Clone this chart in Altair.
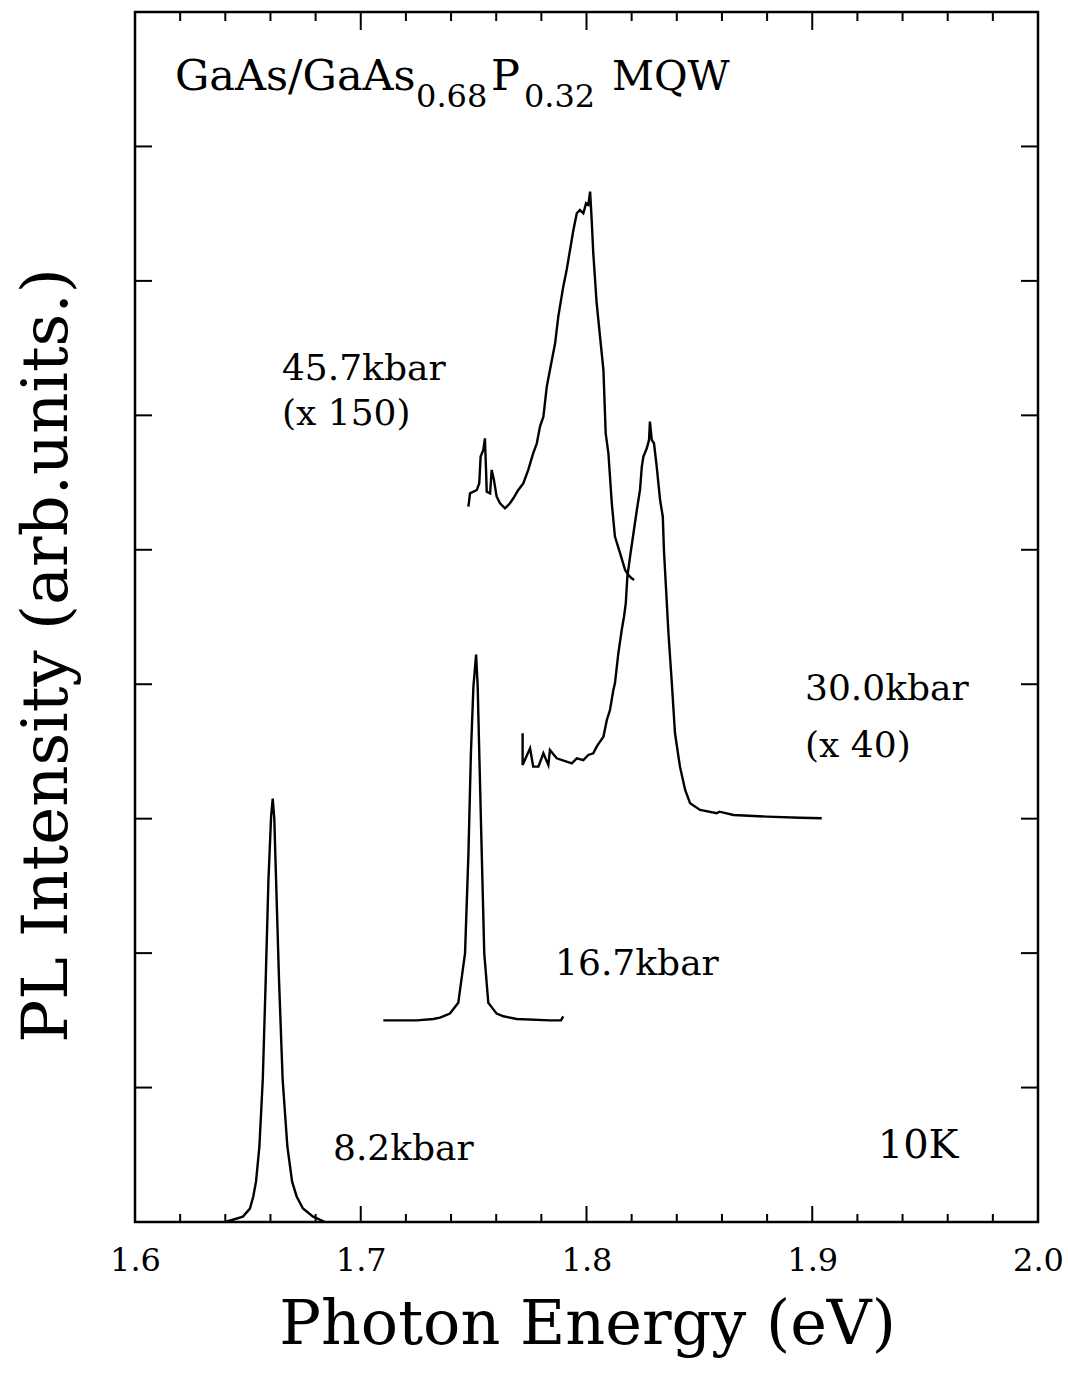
import altair as alt
import pandas as pd

# ---- data ----
e82_x = [1.6400, 1.6478, 1.6509, 1.6524, 1.6536, 1.6551, 1.6566, 1.6579, 1.6591, 1.6603,
         1.6610, 1.6617, 1.6625, 1.6638, 1.6654, 1.6675, 1.6696, 1.6716, 1.6744, 1.6789, 1.6842]
e82_y = [0.00, 0.04, 0.10, 0.19, 0.30, 0.56, 1.06, 1.80, 2.54, 3.02,
         3.15, 3.00, 2.54, 1.80, 1.06, 0.56, 0.30, 0.19, 0.10, 0.04, 0.00]

e167_x = [1.7100, 1.7250, 1.7321, 1.7351, 1.7395, 1.7432, 1.7462, 1.7477, 1.7488, 1.7499,
          1.7511, 1.7518, 1.7525, 1.7536, 1.7547, 1.7565, 1.7602, 1.7632, 1.7691, 1.7838,
          1.7887, 1.7897]
e167_y = [1.50, 1.50, 1.51, 1.52, 1.55, 1.63, 2.00, 2.74, 3.49, 3.98,
          4.22, 3.98, 3.49, 2.74, 2.00, 1.63, 1.55, 1.53, 1.51, 1.50,
          1.50, 1.53]

e300_x = [1.7717, 1.7717, 1.7750, 1.7764, 1.7787, 1.7809, 1.7831, 1.7838, 1.7868, 1.7912,
          1.7935, 1.7957, 1.7986, 1.8008, 1.8030, 1.8045, 1.8060, 1.8075, 1.8090, 1.8104,
          1.8119, 1.8126, 1.8141, 1.8156, 1.8166, 1.8174, 1.8181, 1.8193, 1.8208, 1.8223,
          1.8237, 1.8245, 1.8252, 1.8267, 1.8277, 1.8281, 1.8289, 1.8299, 1.8311, 1.8326,
          1.8338, 1.8343, 1.8351, 1.8363, 1.8378, 1.8392, 1.8414, 1.8437, 1.8459, 1.8503,
          1.8577, 1.8589, 1.8651, 1.8799, 1.8946, 1.9042]
e300_y = [3.635, 3.399, 3.523, 3.387, 3.387, 3.486, 3.399, 3.511, 3.449, 3.424,
          3.412, 3.449, 3.436, 3.474, 3.486, 3.536, 3.573, 3.610, 3.734, 3.808,
          3.957, 4.007, 4.230, 4.403, 4.502, 4.602, 4.800, 4.949, 5.123, 5.296,
          5.445, 5.618, 5.693, 5.755, 5.817, 5.953, 5.817, 5.792, 5.618, 5.370,
          5.246, 4.998, 4.751, 4.379, 4.007, 3.635, 3.387, 3.213, 3.114, 3.065,
          3.040, 3.052, 3.027, 3.015, 3.007, 3.003]

e457_x = [1.7477, 1.7484, 1.7499, 1.7514, 1.7525, 1.7531, 1.7543, 1.7550, 1.7555, 1.7558,
          1.7573, 1.7580, 1.7590, 1.7602, 1.7617, 1.7639, 1.7661, 1.7676, 1.7698, 1.7720,
          1.7742, 1.7764, 1.7780, 1.7794, 1.7809, 1.7824, 1.7838, 1.7861, 1.7875, 1.7897,
          1.7912, 1.7927, 1.7942, 1.7957, 1.7971, 1.7986, 1.7998, 1.8008, 1.8016, 1.8023,
          1.8030, 1.8045, 1.8060, 1.8075, 1.8085, 1.8097, 1.8112, 1.8126, 1.8149, 1.8171,
          1.8185, 1.8200, 1.8211]
e457_y = [5.321, 5.420, 5.432, 5.445, 5.494, 5.693, 5.742, 5.829, 5.594, 5.432,
          5.420, 5.594, 5.519, 5.395, 5.346, 5.309, 5.346, 5.383, 5.445, 5.494,
          5.594, 5.718, 5.792, 5.916, 5.990, 6.213, 6.337, 6.536, 6.734, 6.957,
          7.081, 7.230, 7.379, 7.503, 7.527, 7.503, 7.577, 7.565, 7.664, 7.453,
          7.205, 6.834, 6.585, 6.337, 5.866, 5.718, 5.346, 5.098, 4.974, 4.850,
          4.813, 4.788, 4.775]

series_names = ["8.2kbar", "16.7kbar", "30.0kbar", "45.7kbar"]

x_major = [1.6, 1.7, 1.8, 1.9, 2.0]
x_minor = [1.62, 1.64, 1.66, 1.68, 1.72, 1.74, 1.76, 1.78,
           1.82, 1.84, 1.86, 1.88, 1.92, 1.94, 1.96, 1.98]
y_major = [1, 2, 3, 4, 5, 6, 7, 8]

ann_text = ["GaAs/GaAs", "0.68", "P", "0.32", "MQW",
            "45.7kbar", "(x 150)", "30.0kbar", "(x 40)", "16.7kbar", "8.2kbar", "10K"]
ann_x = [1.6177, 1.7245, 1.7577, 1.7723, 1.8113,
         1.6651, 1.6651, 1.8968, 1.8968, 1.7861, 1.6877, 1.9290]
ann_y = [8.42, 8.29, 8.42, 8.29, 8.42,
         6.263, 5.928, 3.883, 3.459, 1.837, 0.461, 0.476]
ann_size = [43, 32, 43, 32, 41,
            36, 36, 36, 36, 36, 36, 40]

# ---- tables ----
rows = []
for name, xs_, ys_ in zip(series_names, [e82_x, e167_x, e300_x, e457_x], [e82_y, e167_y, e300_y, e457_y]):
    for i, (a, b) in enumerate(zip(xs_, ys_)):
        rows.append({"series": name, "i": i, "E": a, "I": b})
curves = pd.DataFrame(rows)
ann = pd.DataFrame({"t": ann_text, "x": ann_x, "y": ann_y, "fs": ann_size})
xmaj = pd.DataFrame({"v": x_major})
xmin = pd.DataFrame({"v": x_minor})
ymaj = pd.DataFrame({"v": y_major})

W, H = 903, 1210
FONT = "DejaVu Serif"
xs = alt.Scale(domain=[1.6, 2.0], nice=False, zero=False)
ys = alt.Scale(domain=[0, 9], nice=False, zero=False)

base_x = alt.X("E:Q", scale=xs, axis=alt.Axis(
    values=x_major, format=".1f", ticks=False, tickSize=0, domain=False, grid=False,
    labelFont=FONT, labelFontSize=32, labelColor="black", labelFlush=False,
    labelBaseline="alphabetic", labelPadding=48,
    title="Photon Energy (eV)", titleFont=FONT, titleFontSize=62, titleFontWeight="normal",
    titleColor="black", titleX=452, titleY=121, titleAlign="center", titleBaseline="alphabetic"))
base_y = alt.Y("I:Q", scale=ys, axis=alt.Axis(
    values=[], labels=False, ticks=False, domain=False, grid=False,
    title="PL Intensity (arb.units.)", titleFont=FONT, titleFontSize=64, titleFontWeight="normal",
    titleColor="black", titleX=-69, titleY=643, titleAngle=270, titleAlign="center",
    titleBaseline="alphabetic"))

lines = alt.Chart(curves).mark_line(color="black", strokeWidth=2.4).encode(
    x=base_x, y=base_y, detail="series:N", order="i:Q")

def xt(df, y0, y1):
    return alt.Chart(df).mark_rule(color="black", strokeWidth=2).encode(
        x=alt.X("v:Q", scale=xs), y=alt.value(y0), y2=alt.value(y1))

def yt(x0, x1):
    return alt.Chart(ymaj).mark_rule(color="black", strokeWidth=2).encode(
        y=alt.Y("v:Q", scale=ys), x=alt.value(x0), x2=alt.value(x1))

ticks = [xt(xmaj, H, H - 16), xt(xmin, H, H - 8), xt(xmaj, 0, 18), xt(xmin, 0, 9),
         yt(0, 17), yt(W, W - 17)]

labels = alt.Chart(ann).mark_text(font=FONT, align="left", baseline="alphabetic", color="black").encode(
    x=alt.X("x:Q", scale=xs), y=alt.Y("y:Q", scale=ys), text="t:N",
    size=alt.Size("fs:Q", scale=None, legend=None))

chart = alt.layer(lines, *ticks, labels).properties(
    width=W, height=H,
    autosize=alt.AutoSizeParams(type="none"),
    padding={"left": 135, "top": 12, "right": 30, "bottom": 152},
    background="white",
).configure_view(stroke="black", strokeWidth=2.5)

chart.save("out.html", embed_options={"renderer": "svg", "actions": False})
